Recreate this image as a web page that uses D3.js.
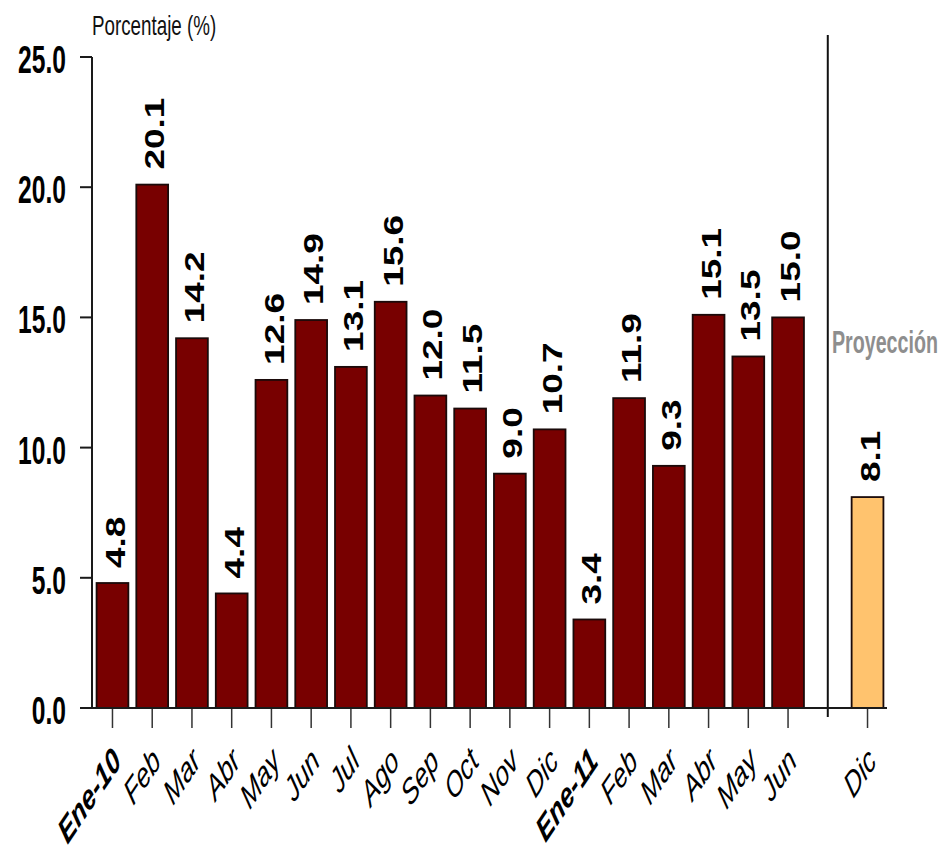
<!DOCTYPE html>
<html>
<head>
<meta charset="utf-8">
<script src="https://cdn.jsdelivr.net/npm/d3@7"></script>
<style>
  html, body { margin: 0; padding: 0; background: #fff; }
  svg { display: block; font-family: "Liberation Sans", Arial, sans-serif; }
</style>
</head>
<body>
<svg id="chart" width="944" height="854"></svg>
<script>
// Monthly observed values (Ene-10 .. Jun-11) and the year-end projection
const periods = ["2010-01","2010-02","2010-03","2010-04","2010-05","2010-06",
                 "2010-07","2010-08","2010-09","2010-10","2010-11","2010-12",
                 "2011-01","2011-02","2011-03","2011-04","2011-05","2011-06"];
const periodLabels = ["Ene-10","Feb","Mar","Abr","May","Jun","Jul","Ago","Sep","Oct","Nov","Dic",
                      "Ene-11","Feb","Mar","Abr","May","Jun"];
const observed = [4.8, 20.1, 14.2, 4.4, 12.6, 14.9, 13.1, 15.6, 12.0, 11.5, 9.0, 10.7,
                  3.4, 11.9, 9.3, 15.1, 13.5, 15.0];
const projPeriods = ["2011-12"];
const projLabels = ["Dic"];
const projected = [8.1];
const yTicks = [0, 5, 10, 15, 20, 25];
const yTitle = "Porcentaje (%)";
const projTitle = "Proyección";

const svg = d3.select("#chart");
const FONT = '"Liberation Sans", Arial, sans-serif';

// one empty slot separates observed months from the projection
const GAP = "gap";
const domain = periods.concat([GAP], projPeriods);

const x = d3.scaleBand()
  .domain(domain)
  .range([93, 887])
  .paddingInner(0.2)
  .paddingOuter(0.09);

const y = d3.scaleLinear().domain([0, 25]).range([708, 57]);

const bars = periods.map((p, i) => ({ key: p, label: periodLabels[i], value: observed[i], proj: false }))
  .concat(projPeriods.map((p, i) => ({ key: p, label: projLabels[i], value: projected[i], proj: true })));

// y axis: vertical line, ticks, stretched bold labels
const yAxis = svg.append("g");
yAxis.append("line")
  .attr("x1", 92).attr("x2", 92)
  .attr("y1", y(25)).attr("y2", y(0))
  .attr("stroke", "#1a1a1a").attr("stroke-width", 2);
yAxis.selectAll("line.tick").data(yTicks).join("line")
  .attr("class", "tick")
  .attr("x1", 80).attr("x2", 92)
  .attr("y1", d => y(d)).attr("y2", d => y(d))
  .attr("stroke", "#1a1a1a").attr("stroke-width", 2);
yAxis.selectAll("text").data(yTicks).join("text")
  .attr("transform", d => `translate(66,${y(d) + 16}) scale(0.88,1.4)`)
  .attr("text-anchor", "end")
  .attr("font-family", FONT)
  .attr("font-weight", "bold")
  .attr("font-size", 28)
  .attr("fill", "#000")
  .text(d => d3.format(".1f")(d));

svg.append("text")
  .attr("transform", "translate(92,35) scale(0.94,1.4)")
  .attr("font-family", FONT)
  .attr("font-size", 20)
  .attr("fill", "#111")
  .text(yTitle);

// bars
svg.append("g").selectAll("rect").data(bars).join("rect")
  .attr("x", d => x(d.key))
  .attr("y", d => y(d.value))
  .attr("width", x.bandwidth())
  .attr("height", d => y(0) - y(d.value))
  .attr("fill", d => d.proj ? "#ffc36e" : "#780000")
  .attr("stroke", "#1a0a0a")
  .attr("stroke-width", 1.8);

// value labels, rotated
svg.append("g").selectAll("text").data(bars).join("text")
  .attr("transform", d => `translate(${x(d.key) + x.bandwidth() / 2 + 2},${y(d.value) - 15}) scale(1,1.32) rotate(-90)`)
  .attr("dy", "0.36em")
  .attr("font-family", FONT)
  .attr("font-weight", "bold")
  .attr("font-size", 28)
  .attr("fill", "#000")
  .text(d => d3.format(".1f")(d.value));

// separator between observed and projected
const sepX = x(GAP) + x.bandwidth() / 2;
svg.append("line")
  .attr("x1", sepX).attr("x2", sepX)
  .attr("y1", 35).attr("y2", 717)
  .attr("stroke", "#111").attr("stroke-width", 2);

svg.append("text")
  .attr("transform", "translate(832,353) scale(0.855,1.4)")
  .attr("font-family", FONT)
  .attr("font-weight", "bold")
  .attr("font-size", 23)
  .attr("fill", "#8e8e8e")
  .text(projTitle);

// x axis baseline and ticks
const xAxis = svg.append("g");
xAxis.selectAll("line.tick").data(bars).join("line")
  .attr("class", "tick")
  .attr("x1", d => x(d.key) + x.bandwidth() / 2)
  .attr("x2", d => x(d.key) + x.bandwidth() / 2)
  .attr("y1", y(0)).attr("y2", y(0) + 20)
  .attr("stroke", "#333").attr("stroke-width", 1.5);
xAxis.append("line")
  .attr("x1", 80).attr("x2", x.range()[1])
  .attr("y1", y(0)).attr("y2", y(0))
  .attr("stroke", "#1a1a1a").attr("stroke-width", 2);

xAxis.selectAll("text").data(bars).join("text")
  .attr("transform", d => `translate(${x(d.key) + x.bandwidth() / 2 + 10},763) scale(0.95,1.42) rotate(-45)`)
  .attr("text-anchor", "end")
  .attr("font-family", FONT)
  .attr("font-style", "italic")
  .attr("font-weight", d => d.label.startsWith("Ene") ? "bold" : "normal")
  .attr("font-size", 25)
  .attr("fill", "#000")
  .text(d => d.label);
</script>
</body>
</html>
